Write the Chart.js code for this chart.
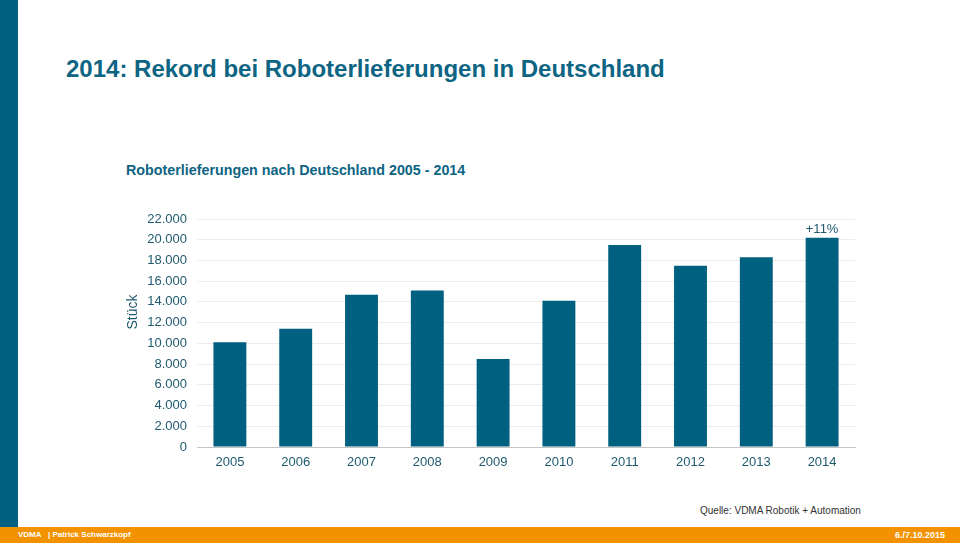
<!DOCTYPE html>
<html>
<head>
<meta charset="utf-8">
<script src="https://cdn.jsdelivr.net/npm/chart.js@4.4.0/dist/chart.umd.min.js"></script>
<style>
  html, body { margin: 0; padding: 0; background: #fff; }
  body { width: 960px; height: 548px; position: relative; overflow: hidden; font-family: "Liberation Sans", Arial, sans-serif; }
  .sidebar { position: absolute; left: 0; top: 0; width: 18px; height: 527px; background: #00607f; }
  .footer { position: absolute; left: 0; top: 527px; width: 960px; height: 16px; background: #f39200; color: #fff; font-size: 8px; font-weight: bold; line-height: 16px; }
  .footer .l { position: absolute; left: 18px; }
  .footer .r { position: absolute; right: 15px; font-size: 9px; }
  .title { position: absolute; left: 66px; top: 55px; font-size: 24px; font-weight: bold; color: #0d6483; white-space: nowrap; }
  .subtitle { position: absolute; left: 126px; top: 162px; font-size: 14.3px; font-weight: bold; color: #0d6483; white-space: nowrap; }
  .source { position: absolute; left: 700px; top: 505px; font-size: 10px; color: #333; white-space: nowrap; }
  #chartBox { position: absolute; left: 120px; top: 200px; width: 760px; height: 280px; }
</style>
</head>
<body>
<div class="sidebar"></div>
<div class="title">2014: Rekord bei Roboterlieferungen in Deutschland</div>
<div class="subtitle">Roboterlieferungen nach Deutschland 2005 - 2014</div>
<div id="chartBox"><canvas id="robotChart"></canvas></div>
<div class="source">Quelle: VDMA Robotik + Automation</div>
<div class="footer"><span class="l">VDMA &nbsp;&nbsp;| Patrick Schwarzkopf</span><span class="r">6./7.10.2015</span></div>

<script>
'use strict';

const years = ['2005', '2006', '2007', '2008', '2009', '2010', '2011', '2012', '2013', '2014'];
const deliveries = [10100, 11400, 14700, 15100, 8500, 14100, 19500, 17500, 18300, 20200];
const yTicks = [0, 2000, 4000, 6000, 8000, 10000, 12000, 14000, 16000, 18000, 20000, 22000];
const barNote = { index: 9, text: '+11%' };
const yTitle = 'Stück';

const tickColor = '#1f5a6e';
const fontFamily = '"Liberation Sans", Arial, sans-serif';

function formatThousands(v) {
  return v === 0 ? '0' : String(v).replace(/\B(?=(\d{3})+(?!\d))/g, '.');
}

// "+11%" over the last bar, and the axis title a bit above centre like the original
const extrasPlugin = {
  id: 'extras',
  afterDatasetsDraw(chart) {
    const ctx = chart.ctx;
    const bar = chart.getDatasetMeta(0).data[barNote.index];
    ctx.save();
    ctx.fillStyle = tickColor;
    if (bar) {
      ctx.font = '13px ' + fontFamily;
      ctx.textAlign = 'center';
      ctx.textBaseline = 'bottom';
      ctx.fillText(barNote.text, bar.x, bar.y - 2);
    }
    const yScale = chart.scales.y;
    ctx.font = '14px ' + fontFamily;
    ctx.translate(yScale.left + 13, chart.chartArea.top + 93);
    ctx.rotate(-Math.PI / 2);
    ctx.textAlign = 'center';
    ctx.textBaseline = 'middle';
    ctx.fillText(yTitle, 0, 0);
    ctx.restore();
  }
};

document.addEventListener('DOMContentLoaded', () => {
  const ctx = document.getElementById('robotChart').getContext('2d');
  new Chart(ctx, {
    type: 'bar',
    data: {
      labels: years,
      datasets: [{
        data: deliveries,
        backgroundColor: '#00607f',
        barPercentage: 0.5,
        categoryPercentage: 1.0
      }]
    },
    options: {
      responsive: true,
      maintainAspectRatio: false,
      animation: false,
      layout: { padding: { top: 19, right: 25, left: 0, bottom: 0 } },
      plugins: {
        legend: { display: false },
        tooltip: { enabled: false }
      },
      scales: {
        x: {
          grid: { display: false, drawTicks: false },
          border: { color: '#c4c4c4', width: 1 },
          ticks: {
            color: tickColor,
            font: { family: fontFamily, size: 13 },
            padding: 8
          },
          afterFit: scale => { scale.height = 33; }
        },
        y: {
          min: 0,
          max: 22000,
          afterBuildTicks: scale => { scale.ticks = yTicks.map(v => ({ value: v })); },
          grid: { color: '#ececec', drawTicks: false },
          border: { display: false },
          ticks: {
            color: tickColor,
            font: { family: fontFamily, size: 13 },
            padding: 10,
            callback: v => formatThousands(v)
          },
          afterFit: scale => { scale.width = 77; }
        }
      }
    },
    plugins: [extrasPlugin]
  });
});
</script>
</body>
</html>
